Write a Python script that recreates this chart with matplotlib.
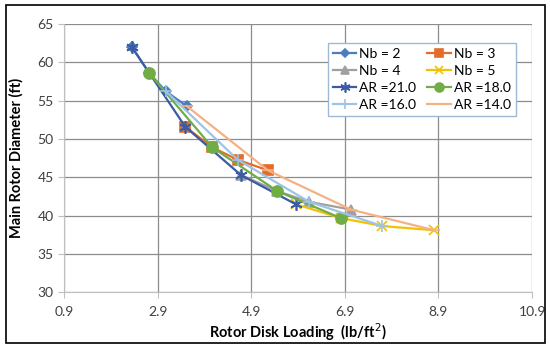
import matplotlib.pyplot as plt
from matplotlib.patches import Rectangle

plt.rcParams['font.family'] = ['Lato', 'DejaVu Sans']

# disk loading (lb/ft^2) and diameter (ft), one list per blade count,
# ordered AR = 21, 18, 16, 14
dl_nb2 = [2.35, 2.72, 3.08, 3.52]
d_nb2 = [62.0, 58.6, 56.2, 54.3]
dl_nb3 = [3.49, 4.07, 4.61, 5.26]
d_nb3 = [51.6, 48.9, 47.3, 45.9]
dl_nb4 = [4.68, 5.46, 6.14, 7.03]
d_nb4 = [45.3, 43.2, 41.8, 40.8]
dl_nb5 = [5.85, 6.81, 7.70, 8.81]
d_nb5 = [41.5, 39.7, 38.65, 38.1]

nb_labels = ["Nb = 2", "Nb = 3", "Nb = 4", "Nb = 5"]
ar_labels = ["AR =21.0", "AR =18.0", "AR =16.0", "AR =14.0"]
x_ticks = [0.9, 2.9, 4.9, 6.9, 8.9, 10.9]
y_ticks = [30, 35, 40, 45, 50, 55, 60, 65]

dl = [dl_nb2, dl_nb3, dl_nb4, dl_nb5]
d = [d_nb2, d_nb3, d_nb4, d_nb5]

nb_style = [('#4a7ebb', 'D', 5), ('#e46c2a', 's', 7), ('#a0a0a0', '^', 7), ('#f2c200', 'x', 7)]
ar_style = [('#3b5ba5', (6, 2, 0), 9), ('#70ad47', 'o', 8), ('#9dc3e6', '+', 9), ('#f4b183', '_', 9)]

fig = plt.figure(figsize=(5.5, 3.46), dpi=100)
ax = fig.add_axes([0.1164, 0.155, 0.851, 0.7756])

handles = {}
for i in range(4):
    c, m, s = nb_style[i]
    h, = ax.plot(dl[i], d[i], color=c, marker=m, markersize=s, lw=1.6,
                 markeredgewidth=1.2, label=nb_labels[i])
    handles[nb_labels[i]] = h

for j in range(4):
    c, m, s = ar_style[j]
    xs = [dl[i][j] for i in range(4)]
    ys = [d[i][j] for i in range(4)]
    h, = ax.plot(xs, ys, color=c, marker=m, markersize=s, lw=1.6,
                 markeredgewidth=1.2, label=ar_labels[j])
    handles[ar_labels[j]] = h

ax.set_xlim(0.9, 10.9)
ax.set_ylim(30, 65)
ax.set_xticks(x_ticks)
ax.set_xticklabels([f"{v:.1f}" for v in x_ticks])
ax.set_yticks(y_ticks)
ax.grid(True, color='#8c8c8c', lw=0.9)
ax.set_axisbelow(True)
for side in ['top', 'right']:
    ax.spines[side].set_visible(False)
ax.spines['left'].set_color('#bfbfbf')
ax.spines['bottom'].set_color('#bfbfbf')
ax.tick_params(axis='both', colors='#bfbfbf', labelcolor='#404040', labelsize=10, length=4)
ax.tick_params(axis='x', pad=6)

ax.set_xlabel("Rotor Disk Loading  (lb/ft$^2$)", fontsize=10.5, fontweight='bold', labelpad=2)
ax.set_ylabel("Main Rotor Diameter (ft)", fontsize=10.5, fontweight='bold', labelpad=10)

order = ["Nb = 2", "Nb = 4", "AR =21.0", "AR =16.0", "Nb = 3", "Nb = 5", "AR =18.0", "AR =14.0"]
leg = ax.legend([handles[k] for k in order], order, ncol=2, loc='upper left',
                bbox_to_anchor=(0.564, 0.929), borderaxespad=0, fontsize=10, frameon=True,
                fancybox=False, handlelength=1.7, handletextpad=0.2, columnspacing=0.8,
                labelspacing=0.37, borderpad=0.35, framealpha=1, markerscale=0.8)
leg.get_frame().set_edgecolor('#9db9d3')
leg.get_frame().set_linewidth(1.0)

fig.patches.append(Rectangle((6 / 550, 3 / 346), 539 / 550, 338 / 346, transform=fig.transFigure,
                             fill=False, edgecolor='black', lw=1.2))

fig.savefig("out.png", dpi=100)
